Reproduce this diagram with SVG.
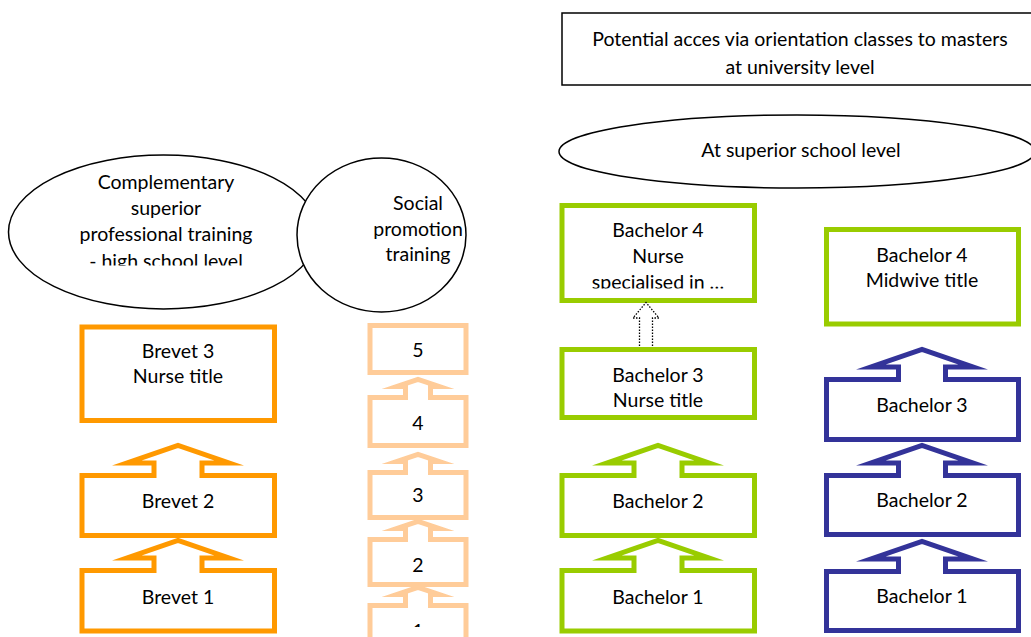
<svg xmlns="http://www.w3.org/2000/svg" width="1031" height="637" viewBox="0 0 1031 637">
<style>
text{font-family:Lato,"Liberation Sans",sans-serif;font-size:19.5px;fill:#000;text-anchor:middle}
.thin{fill:#fff;stroke:#000;stroke-width:1.5}
.or{fill:#fff;stroke:#FF9900;stroke-width:5;stroke-miterlimit:12}
.pe{fill:#fff;stroke:#FFCC99;stroke-width:5;stroke-miterlimit:12}
.gr{fill:#fff;stroke:#99CC00;stroke-width:5;stroke-miterlimit:12}
.bl{fill:#fff;stroke:#333399;stroke-width:5;stroke-miterlimit:12}
</style>
<defs>
<clipPath id="c-top"><rect x="562" y="13" width="480" height="62"/></clipPath>
<clipPath id="c-big"><rect x="0" y="140" width="340" height="125.5"/></clipPath>
<clipPath id="c-b4n"><rect x="562" y="205" width="193" height="83.5"/></clipPath>
<clipPath id="c-s1"><rect x="370" y="600" width="96" height="27"/></clipPath>
</defs>
<rect width="1031" height="637" fill="#fff"/>

<g id="top-box">
<rect class="thin" x="562" y="13" width="480" height="72"/>
<g clip-path="url(#c-top)">
<text x="800" y="46">Potential acces via orientation classes to masters</text>
<text x="800" y="74">at university level</text>
</g>
</g>

<g id="superior-level">
<ellipse class="thin" cx="797" cy="151.5" rx="238" ry="36.5"/>
<text x="801" y="157">At superior school level</text>
</g>

<g id="complementary">
<ellipse class="thin" cx="163.5" cy="232" rx="155" ry="77"/>
<g clip-path="url(#c-big)">
<text x="166" y="189">Complementary</text>
<text x="166" y="215">superior</text>
<text x="166" y="241">professional training</text>
<text x="166" y="267.5">- high school level</text>
</g>
</g>

<g id="social">
<ellipse class="thin" cx="381.5" cy="235" rx="84.5" ry="77"/>
<text x="418" y="210">Social</text>
<text x="418" y="236">promotion</text>
<text x="418" y="261">training</text>
</g>

<g id="brevet3">
<rect class="or" x="82" y="327" width="192.5" height="93.5"/>
<text x="178" y="358">Brevet 3</text>
<text x="178" y="383">Nurse title</text>
</g>
<g id="brevet2">
<path class="or" d="M82,535.5 L82,475.5 L154,475.5 L154,463 L127,463 L178,445.5 L229,463 L202,463 L202,475.5 L274.5,475.5 L274.5,535.5 Z"/>
<text x="178" y="508">Brevet 2</text>
</g>
<g id="brevet1">
<path class="or" d="M82,631 L82,570.5 L154,570.5 L154,558 L127,558 L178,540.5 L229,558 L202,558 L202,570.5 L274.5,570.5 L274.5,631 Z"/>
<text x="178" y="604">Brevet 1</text>
</g>

<g id="social5">
<rect class="pe" x="370" y="325.5" width="96" height="47"/>
<text x="418" y="357">5</text>
</g>
<g id="social4">
<path class="pe" d="M370,445.5 L370,397.5 L405.5,397.5 L405.5,386.5 L397,386.5 L418,379.5 L439,386.5 L430.5,386.5 L430.5,397.5 L466,397.5 L466,445.5 Z"/>
<text x="418" y="430">4</text>
</g>
<g id="social3">
<path class="pe" d="M370,517.5 L370,472.5 L405.5,472.5 L405.5,461.5 L397,461.5 L418,454.5 L439,461.5 L430.5,461.5 L430.5,472.5 L466,472.5 L466,517.5 Z"/>
<text x="418" y="502">3</text>
</g>
<g id="social2">
<path class="pe" d="M370,584.5 L370,539.5 L405.5,539.5 L405.5,528.5 L397,528.5 L418,521.5 L439,528.5 L430.5,528.5 L430.5,539.5 L466,539.5 L466,584.5 Z"/>
<text x="418" y="572">2</text>
</g>
<g id="social1">
<path class="pe" d="M370,650 L370,605.5 L405.5,605.5 L405.5,594.5 L397,594.5 L418,587.5 L439,594.5 L430.5,594.5 L430.5,605.5 L466,605.5 L466,650 Z"/>
<text x="418" y="638" clip-path="url(#c-s1)">1</text>
</g>

<g id="bachelor4-nurse">
<rect class="gr" x="562" y="205.5" width="192.5" height="95"/>
<g clip-path="url(#c-b4n)">
<text x="658" y="237">Bachelor 4</text>
<text x="658" y="263">Nurse</text>
<text x="658" y="289">specialised in …</text>
</g>
</g>
<g id="bachelor3-nurse">
<rect class="gr" x="562" y="349.5" width="192.5" height="68"/>
<text x="658" y="382">Bachelor 3</text>
<text x="658" y="407">Nurse title</text>
</g>
<g id="bachelor2-nurse">
<path class="gr" d="M562,535.5 L562,475.5 L634,475.5 L634,463 L607,463 L658,445.5 L709,463 L682,463 L682,475.5 L754.5,475.5 L754.5,535.5 Z"/>
<text x="658" y="508">Bachelor 2</text>
</g>
<g id="bachelor1-nurse">
<path class="gr" d="M562,631 L562,570.5 L634,570.5 L634,558 L607,558 L658,540.5 L709,558 L682,558 L682,570.5 L754.5,570.5 L754.5,631 Z"/>
<text x="658" y="604">Bachelor 1</text>
</g>

<g id="bachelor4-midwife">
<rect class="gr" x="826.5" y="229.5" width="192" height="94.5"/>
<text x="922" y="262">Bachelor 4</text>
<text x="922" y="287">Midwive title</text>
</g>
<g id="bachelor3-midwife">
<path class="bl" d="M826.5,439.5 L826.5,379.5 L898.5,379.5 L898.5,367 L871,367 L922,349.5 L973,367 L945.5,367 L945.5,379.5 L1018.5,379.5 L1018.5,439.5 Z"/>
<text x="922" y="412">Bachelor 3</text>
</g>
<g id="bachelor2-midwife">
<path class="bl" d="M826.5,534.5 L826.5,475.5 L898.5,475.5 L898.5,463 L871,463 L922,445.5 L973,463 L945.5,463 L945.5,475.5 L1018.5,475.5 L1018.5,534.5 Z"/>
<text x="922" y="507">Bachelor 2</text>
</g>
<g id="bachelor1-midwife">
<path class="bl" d="M826.5,630.5 L826.5,571.5 L898.5,571.5 L898.5,559 L871,559 L922,541.5 L973,559 L945.5,559 L945.5,571.5 L1018.5,571.5 L1018.5,630.5 Z"/>
<text x="922" y="603">Bachelor 1</text>
</g>

<g id="connectors">
<path d="M639.5,346 L639.5,318 L633,318 L646,302.5 L659,318 L652.5,318 L652.5,346" fill="none" stroke="#000" stroke-width="1.3" stroke-dasharray="1.5 1.5"/>
</g>
</svg>
